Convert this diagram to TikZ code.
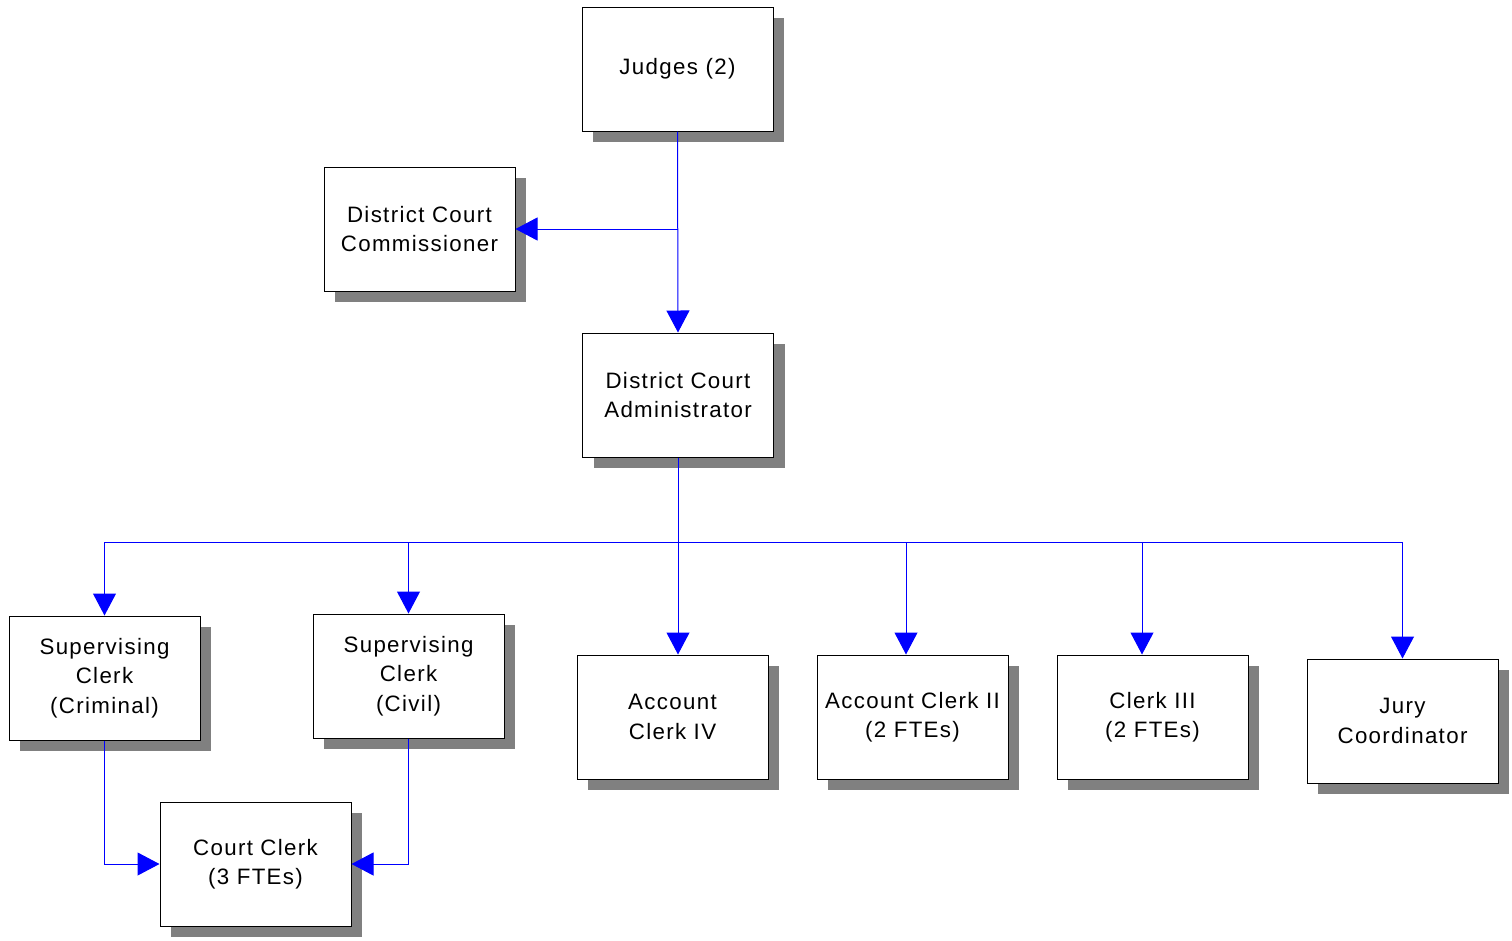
\documentclass[tikz,border=0pt]{standalone}
\usepackage{fontspec}
\setmainfont[LetterSpace=6]{Liberation Sans}
\usetikzlibrary{arrows.meta,shadows,calc}
\definecolor{shadowgray}{RGB}{128,128,128}
\begin{document}
\begin{tikzpicture}[x=1pt,y=-1pt,
  unit/.style={draw=black, line width=1pt, fill=white,
    minimum width=191pt, minimum height=124pt, inner sep=0pt,
    align=center, font=\fontsize{22.3}{29.5}\selectfont,
    general shadow={fill=shadowgray, shadow xshift=11pt, shadow yshift=-11pt}},
  link/.style={draw=blue, line width=1pt},
  tip/.style={link, -{Triangle[length=22pt,width=23pt,fill=blue]}}]
\useasboundingbox (0,0) rectangle (1512,940);

% positions
\node[unit] (judges) at (677.5,69)  {Judges (2)};
\node[unit] (dcc)    at (419.5,229) {District Court\\Commissioner};
\node[unit] (dca)    at (678,395)   {District Court\\Administrator};
\node[unit] (scc)    at (104.5,678) {Supervising\\Clerk\\(Criminal)};
\node[unit] (scv)    at (408.5,676) {Supervising\\Clerk\\(Civil)};
\node[unit] (ac4)    at (672.5,717) {Account\\Clerk IV};
\node[unit] (ac2)    at (912.5,717) {Account Clerk II\\(2 FTEs)};
\node[unit] (c3)     at (1152.5,717){Clerk III\\(2 FTEs)};
\node[unit] (jury)   at (1402.5,721){Jury\\Coordinator};
\node[unit] (cc)     at (255.5,864) {Court Clerk\\(3 FTEs)};

% connection points
\coordinate (bus)   at (678,542);
\coordinate (ac4in) at ($(ac4.north)+(5.5,0)$);
\coordinate (ac2in) at ($(ac2.north)+(-6.5,0)$);
\coordinate (c3in)  at ($(c3.north)+(-10.5,0)$);

% judges to commissioner and administrator
\draw[tip] (judges.south) -- (dca.north);
\draw[tip] (judges.south |- dcc.east) -- (dcc.east);

% administrator to staff
\draw[link] (dca.south) -- (bus);
\draw[link] (scc.north |- bus) -- (jury.north |- bus);
\draw[tip] (scc.north |- bus) -- (scc.north);
\draw[tip] (scv.north |- bus) -- (scv.north);
\draw[tip] (ac4in |- bus) -- (ac4in);
\draw[tip] (ac2in |- bus) -- (ac2in);
\draw[tip] (c3in |- bus) -- (c3in);
\draw[tip] (jury.north |- bus) -- (jury.north);

% supervising clerks to court clerk
\draw[tip] (scc.south) |- (cc.west);
\draw[tip] (scv.south) |- (cc.east);
\end{tikzpicture}
\end{document}
